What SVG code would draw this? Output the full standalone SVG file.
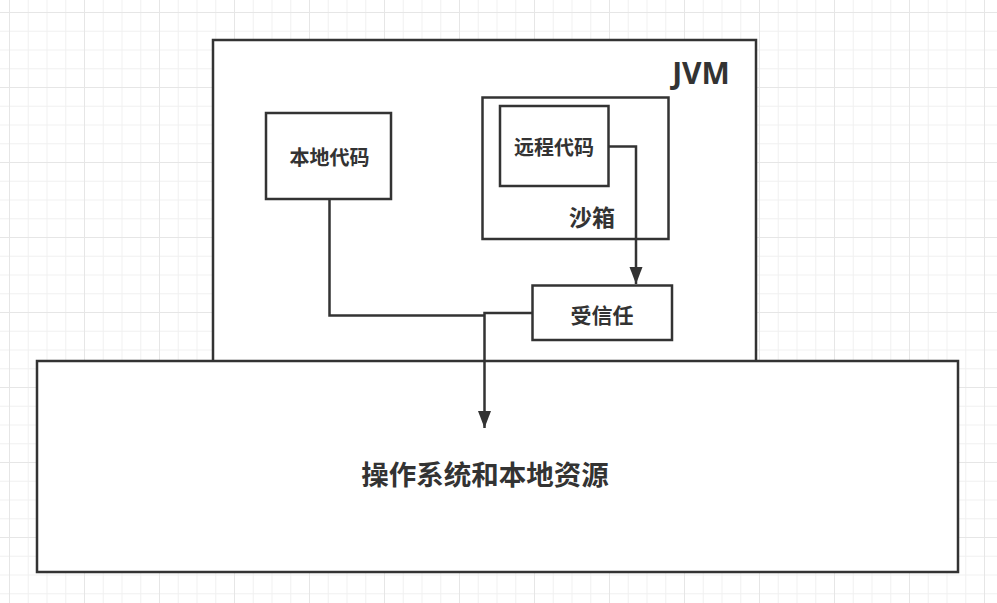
<svg xmlns="http://www.w3.org/2000/svg" width="997" height="603" viewBox="0 0 997 603">
<defs>
<style>
.box{fill:#ffffff;stroke:#333333;stroke-width:2.5}
.edge{fill:none;stroke:#333333;stroke-width:2.5}
.t{font-family:"Noto Sans CJK SC","Noto Sans",sans-serif;font-weight:bold;fill:#333333;text-anchor:middle}
</style>
<pattern id="grid" x="9" y="12" width="75" height="75" patternUnits="userSpaceOnUse">
<rect x="0" y="0" width="75" height="75" fill="#ffffff"/>
<g fill="#f1f1f1">
<rect x="18.75" y="0" width="1" height="75"/>
<rect x="37.5" y="0" width="1" height="75"/>
<rect x="56.25" y="0" width="1" height="75"/>
<rect x="0" y="18.75" width="75" height="1"/>
<rect x="0" y="37.5" width="75" height="1"/>
<rect x="0" y="56.25" width="75" height="1"/>
</g>
<g fill="#e6e6e6">
<rect x="0" y="0" width="1" height="75"/>
<rect x="0" y="0" width="75" height="1"/>
</g>
</pattern>
<marker id="arrow" markerUnits="userSpaceOnUse" markerWidth="18" markerHeight="14" refX="17" refY="6.5" orient="auto">
<path d="M0,0 L17,6.5 L0,13 z" fill="#333333"/>
</marker>
</defs>
<rect x="0" y="0" width="997" height="603" fill="url(#grid)"/>
<g id="jvm">
<rect class="box" x="213" y="40" width="543" height="330"/>
<text x="701" y="84" font-size="30" font-family="'Noto Sans','Open Sans',sans-serif" font-weight="bold" fill="#333333" text-anchor="middle">JVM</text>
</g>
<g id="local-code">
<rect class="box" x="266" y="113" width="125" height="86"/>
<text class="t" x="329.5" y="164.5" font-size="20">本地代码</text>
</g>
<g id="sandbox">
<rect class="box" x="482.5" y="97.5" width="186" height="141.5"/>
<text class="t" x="592" y="225.5" font-size="23">沙箱</text>
</g>
<g id="remote-code">
<rect class="box" x="500" y="106" width="108.5" height="80"/>
<text class="t" x="554" y="154.5" font-size="20">远程代码</text>
</g>
<g id="trusted">
<rect class="box" x="532.5" y="285.5" width="139.5" height="54.5"/>
<text class="t" x="602" y="322.5" font-size="21">受信任</text>
</g>
<g id="os">
<rect class="box" x="37" y="361" width="921" height="211"/>
<text class="t" x="485" y="485" font-size="27.5">操作系统和本地资源</text>
</g>
<g id="connectors">
<path class="edge" d="M329.5,199 L329.5,315.5 L484.5,315.5"/>
<path class="edge" d="M532.5,313 L484.5,313 L484.5,428" marker-end="url(#arrow)"/>
<path class="edge" d="M608.5,146.5 L636,146.5 L636,284" marker-end="url(#arrow)"/>
</g>
</svg>
